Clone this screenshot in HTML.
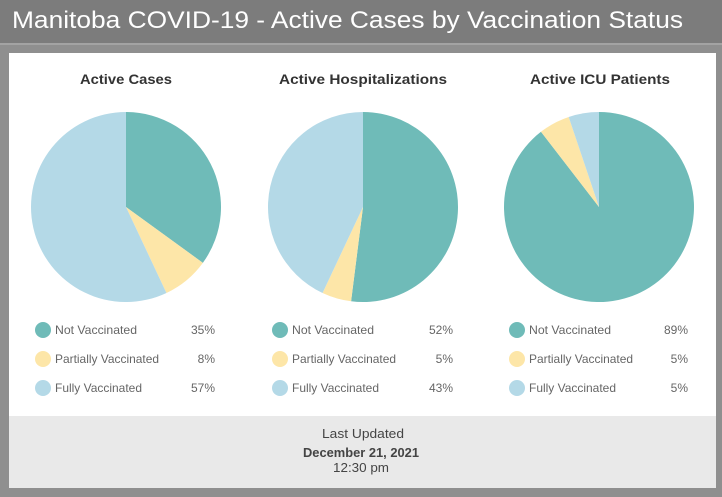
<!DOCTYPE html>
<html><head><meta charset="utf-8"><style>
html,body{margin:0;padding:0;background:#8f8f8f;}
svg{display:block;}
</style></head><body>
<svg width="722" height="497" viewBox="0 0 722 497" xmlns="http://www.w3.org/2000/svg" font-family="Liberation Sans, sans-serif">
<rect x="0" y="0" width="722" height="497" fill="#8f8f8f"/>
<rect x="0" y="0" width="722" height="43" fill="#7c7c7c"/>
<rect x="0" y="43" width="722" height="2" fill="#a3a3a3"/>
<text x="12" y="28" font-size="24" fill="#ffffff" textLength="671" lengthAdjust="spacingAndGlyphs">Manitoba COVID-19 - Active Cases by Vaccination Status</text>
<rect x="9" y="53" width="707" height="363" fill="#ffffff"/>
<rect x="9" y="416" width="707" height="72" fill="#e9e9e9"/>

<g font-weight="bold" font-size="14" fill="#333">
<text x="80" y="84" textLength="92" lengthAdjust="spacingAndGlyphs">Active Cases</text>
<text x="279" y="84" textLength="168" lengthAdjust="spacingAndGlyphs">Active Hospitalizations</text>
<text x="530" y="84" textLength="140" lengthAdjust="spacingAndGlyphs">Active ICU Patients</text>
</g>

<!-- Pie 1: center 126,207 r95; 35,8,57 -->
<g>
<path d="M126,207 L126,112 A95,95 0 0,1 202.86,262.84 Z" fill="#6fbbb8"/>
<path d="M126,207 L202.86,262.84 A95,95 0 0,1 166.45,292.96 Z" fill="#fde6a8"/>
<path d="M126,207 L166.45,292.96 A95,95 0 1,1 126,112 Z" fill="#b4d9e7"/>
</g>
<!-- Pie 2: center 363,207; 52,5,43 -->
<g>
<path d="M363,207 L363,112 A95,95 0 1,1 351.09,301.25 Z" fill="#6fbbb8"/>
<path d="M363,207 L351.09,301.25 A95,95 0 0,1 322.55,292.96 Z" fill="#fde6a8"/>
<path d="M363,207 L322.55,292.96 A95,95 0 0,1 363,112 Z" fill="#b4d9e7"/>
</g>
<!-- Pie 3: center 599,207; 89.5,5.3,5.2 -->
<g>
<path d="M599,207 L599,112 A95,95 0 1,1 540.96,131.79 Z" fill="#6fbbb8"/>
<path d="M599,207 L540.96,131.79 A95,95 0 0,1 568.67,116.97 Z" fill="#fde6a8"/>
<path d="M599,207 L568.67,116.97 A95,95 0 0,1 599,112 Z" fill="#b4d9e7"/>
</g>

<g font-size="12" fill="#666">
<g transform="translate(0,0)">
<circle cx="43" cy="330" r="8" fill="#6fbbb8"/>
<circle cx="43" cy="359" r="8" fill="#fde6a8"/>
<circle cx="43" cy="388" r="8" fill="#b4d9e7"/>
<text x="55" y="334" textLength="82" lengthAdjust="spacingAndGlyphs">Not Vaccinated</text>
<text x="55" y="363" textLength="104" lengthAdjust="spacingAndGlyphs">Partially Vaccinated</text>
<text x="55" y="392" textLength="87" lengthAdjust="spacingAndGlyphs">Fully Vaccinated</text>
<text x="215" y="334" text-anchor="end">35%</text>
<text x="215" y="363" text-anchor="end">8%</text>
<text x="215" y="392" text-anchor="end">57%</text>
</g>
<g transform="translate(237,0)">
<circle cx="43" cy="330" r="8" fill="#6fbbb8"/>
<circle cx="43" cy="359" r="8" fill="#fde6a8"/>
<circle cx="43" cy="388" r="8" fill="#b4d9e7"/>
<text x="55" y="334" textLength="82" lengthAdjust="spacingAndGlyphs">Not Vaccinated</text>
<text x="55" y="363" textLength="104" lengthAdjust="spacingAndGlyphs">Partially Vaccinated</text>
<text x="55" y="392" textLength="87" lengthAdjust="spacingAndGlyphs">Fully Vaccinated</text>
<text x="216" y="334" text-anchor="end">52%</text>
<text x="216" y="363" text-anchor="end">5%</text>
<text x="216" y="392" text-anchor="end">43%</text>
</g>
<g transform="translate(474,0)">
<circle cx="43" cy="330" r="8" fill="#6fbbb8"/>
<circle cx="43" cy="359" r="8" fill="#fde6a8"/>
<circle cx="43" cy="388" r="8" fill="#b4d9e7"/>
<text x="55" y="334" textLength="82" lengthAdjust="spacingAndGlyphs">Not Vaccinated</text>
<text x="55" y="363" textLength="104" lengthAdjust="spacingAndGlyphs">Partially Vaccinated</text>
<text x="55" y="392" textLength="87" lengthAdjust="spacingAndGlyphs">Fully Vaccinated</text>
<text x="214" y="334" text-anchor="end">89%</text>
<text x="214" y="363" text-anchor="end">5%</text>
<text x="214" y="392" text-anchor="end">5%</text>
</g>
</g>

<g font-size="13" fill="#444">
<text x="322" y="438" textLength="82" lengthAdjust="spacingAndGlyphs">Last Updated</text>
<text x="303" y="457" font-weight="bold" textLength="116" lengthAdjust="spacingAndGlyphs">December 21, 2021</text>
<text x="333" y="472" textLength="56" lengthAdjust="spacingAndGlyphs">12:30 pm</text>
</g>
</svg>
</body></html>
